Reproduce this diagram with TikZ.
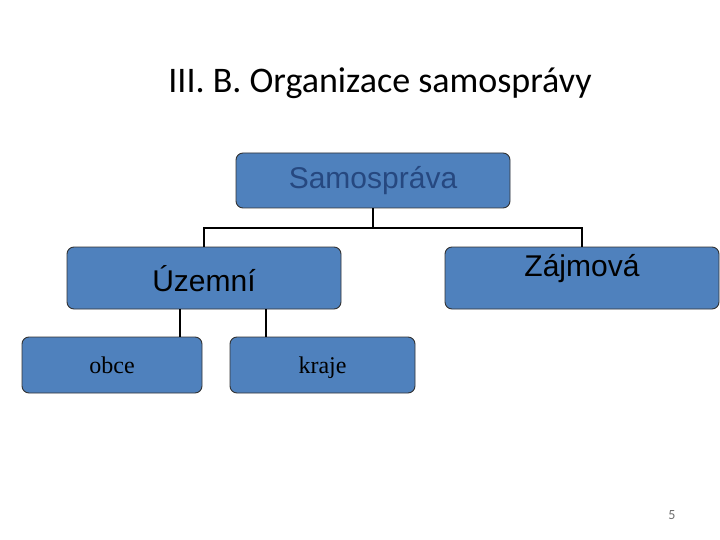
\documentclass[tikz,border=0pt]{standalone}
\usepackage{fontspec}
\setmainfont{Liberation Serif}
\newfontfamily\arialfont{Liberation Sans}
\newfontfamily\calibrifont{Carlito}
\usepackage{tikz}
\usetikzlibrary{positioning,calc}

\definecolor{boxblue}{RGB}{79,129,189}
\definecolor{textblue}{RGB}{38,72,128}
\definecolor{pagegray}{RGB}{110,110,110}

\begin{document}
\begin{tikzpicture}[
  x=1pt, y=-1pt,
  box/.style={draw=black!80,line width=0.9pt,fill=boxblue,rounded corners=7pt,
              inner sep=0pt},
  sans/.style={font=\arialfont\fontsize{30}{32}\selectfont},
  serif/.style={font=\fontsize{24}{26}\selectfont,anchor=base},
  conn/.style={line width=2.6pt,black}
]
  \useasboundingbox (0,0) rectangle (720,540);

  \node[font=\calibrifont\fontsize{36}{40}\selectfont] (title) at (380,83)
    {III. B. Organizace samosprávy};

  \node[box,minimum width=274pt,minimum height=55pt] (samo) at (373,180.5) {};
  \node[sans,text=textblue] (samot) at (samo.center) {Samospráva};

  \node[box,minimum width=274pt,minimum height=62pt] (uzem) at (204,278) {};
  \node[sans,text=black] (uzemt) at ([yshift=-1pt]uzem.center) {Územní};

  \node[box,minimum width=274pt,minimum height=62pt] (zajm) at (582,278) {};
  \node[sans,text=black] (zajmt) at ([yshift=9pt]zajm.center) {Zájmová};

  \node[box,minimum width=180pt,minimum height=56pt] (obce) at (112,365) {};
  \node[serif] (obcet) at (112,373) {obce};

  \node[box,minimum width=185pt,minimum height=56pt] (kraje) at (322.5,365) {};
  \node[serif] (krajet) at (322.5,373) {kraje};

  % connectors
  \coordinate (bus) at (373,228);
  \draw[conn] (samo.south) -- (bus) -| (uzem.north);
  \draw[conn] (bus) -| (zajm.north);
  \draw[conn] ([xshift=-24pt]uzem.south) -- ([xshift=-24pt]uzem.south |- obce.north);
  \draw[conn] ([xshift=62pt]uzem.south) -- ([xshift=62pt]uzem.south |- kraje.north);

  \node[font=\calibrifont\fontsize{14}{16}\selectfont,text=pagegray] (page) at (672,515) {5};
\end{tikzpicture}
\end{document}
